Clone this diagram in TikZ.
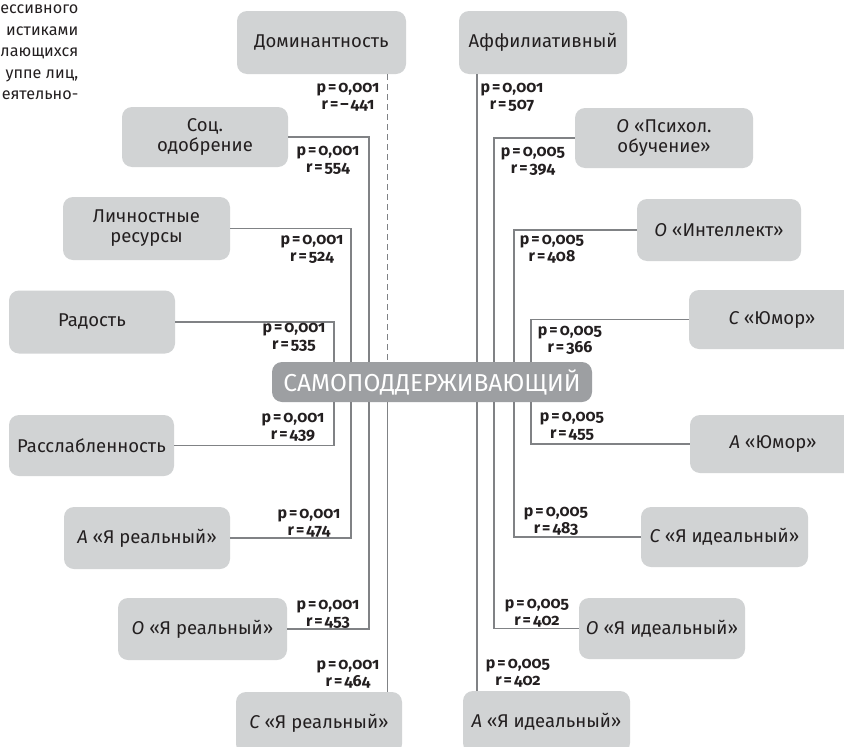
\documentclass[tikz,border=0pt]{standalone}
\usepackage{fontspec}
\setmainfont{Fira Sans}
\newfontfamily\lblfont[Numbers=OldStyle]{Fira Sans}
\usetikzlibrary{calc}
\definecolor{boxgray}{HTML}{D1D3D4}
\definecolor{coregray}{HTML}{9D9FA2}
\definecolor{linegray}{HTML}{808285}
\definecolor{txt}{HTML}{231F20}
\newcommand\pv[1]{p\kern2pt=\kern2pt#1}
\newcommand\rv[1]{r\kern2pt=\kern2pt#1}
\begin{document}
\begin{tikzpicture}[x=1pt,y=-1pt,
  box/.style={fill=boxgray, rounded corners=10pt, text=txt,
    font=\fontsize{18.5}{20}\selectfont, align=center, inner sep=0pt},
  core/.style={fill=coregray, rounded corners=10pt, text=white,
    font=\fontsize{24.5}{26}\selectfont, inner sep=0pt},
  conn/.style={draw=linegray, line width=1.3pt},
  stat/.style={font=\lblfont\bfseries\fontsize{16}{17}\selectfont, text=txt,
    align=center, inner sep=0pt},
  para/.style={font=\fontsize{16.2}{21.5}\selectfont, text=txt, align=right,
    inner sep=0pt}
]
\useasboundingbox (0,0) rectangle (844,747);
\fill[white] (0,0) rectangle (844,747);

% paragraph fragment
\node[para, anchor=north east] (frag) at (78.5,5)
  {ессивного\\истиками\\лающихся\\уппе лиц,\\еятельно-};

% column coordinates
\coordinate (x334) at (334,0);
\coordinate (x351) at (351,0);
\coordinate (x369) at (369,0);
\coordinate (x387) at (387.5,0);
\coordinate (x477) at (477,0);
\coordinate (x494) at (494,0);
\coordinate (x514) at (514,0);
\coordinate (x531) at (531,0);

% central node
\node[core, minimum width=320pt, minimum height=40pt] (core) at (432,382)
  {САМОПОДДЕРЖИВАЮЩИЙ};

% left boxes
\node[box, minimum width=169pt, minimum height=63pt] (dom) at (321.5,42.5) {Доминантность};
\node[box, minimum width=166pt, minimum height=60pt] (soc) at (205,137) {Соц.\\одобрение};
\node[box, minimum width=167pt, minimum height=63pt] (lich) at (146.5,228.5) {Личностные\\ресурсы};
\node[box, minimum width=166pt, minimum height=63pt] (rad) at (92,322) {Радость};
\node[box, minimum width=165pt, minimum height=61pt] (rass) at (91.5,445.5) {Расслабленность};
\node[box, minimum width=166pt, minimum height=62pt] (aR) at (147,538) {{\itshape А} «Я реальный»};
\node[box, minimum width=169pt, minimum height=62pt] (oR) at (202.5,629) {{\itshape О} «Я реальный»};
\node[box, minimum width=166pt, minimum height=62pt] (cR) at (319,723) {{\itshape С} «Я реальный»};

% right boxes
\node[box, minimum width=168pt, minimum height=63pt] (aff) at (543,42.5) {Аффилиативный};
\node[box, minimum width=178pt, minimum height=60pt] (psy) at (664,138) {{\itshape О} «Психол.\\обучение»};
\node[box, minimum width=164pt, minimum height=62pt] (int) at (719,230) {{\itshape О} «Интеллект»};
\node[box, minimum width=166pt, minimum height=59pt] (cYu) at (772,319.5) {{\itshape С} «Юмор»};
\node[box, minimum width=166pt, minimum height=58pt] (aYu) at (773,444) {{\itshape А} «Юмор»};
\node[box, minimum width=167pt, minimum height=60pt] (cI) at (724.5,537) {{\itshape С} «Я идеальный»};
\node[box, minimum width=166pt, minimum height=61pt] (oI) at (662,628.5) {{\itshape О} «Я идеальный»};
\node[box, minimum width=167pt, minimum height=62pt] (aI) at (546.5,722) {{\itshape А} «Я идеальный»};

% connectors left
\draw[conn, dashed, dash pattern=on 6pt off 4pt] (dom.south -| x387) -- (x387 |- core.north);
\draw[conn] (soc.east) -| (x369 |- core.north);
\draw[conn] (lich.east) -| (x351 |- core.north);
\draw[conn] (rad.east) -| (x334 |- core.north);
\draw[conn] (rass.east) -| (x334 |- core.south);
\draw[conn] (aR.east) -| (x351 |- core.south);
\draw[conn] (oR.east) -| (x369 |- core.south);
\draw[conn] (cR.north -| x387) -- (x387 |- core.south);

% connectors right
\draw[conn] (aff.south -| x477) -- (x477 |- core.north);
\draw[conn] (psy.west) -| (x494 |- core.north);
\draw[conn] (int.west) -| (x514 |- core.north);
\draw[conn] (cYu.west) -| (x531 |- core.north);
\draw[conn] (aYu.west) -| (x531 |- core.south);
\draw[conn] (cI.west) -| (x514 |- core.south);
\draw[conn] (oI.west) -| (x494 |- core.south);
\draw[conn] (aI.north -| x477) -- (x477 |- core.south);

% statistics labels
\node[stat] (sdom) at (348,97) {\pv{0,001}\\\rv{–\kern2pt441}};
\node[stat] (ssoc) at (328,160) {\pv{0,001}\\\rv{554}};
\node[stat] (slich) at (312,249) {\pv{0,001}\\\rv{524}};
\node[stat] (srad) at (294,337) {\pv{0,001}\\\rv{535}};
\node[stat] (srass) at (293,427) {\pv{0,001}\\\rv{439}};
\node[stat] (saR) at (309,523) {\pv{0,001}\\\rv{474}};
\node[stat] (soR) at (328,614) {\pv{0,001}\\\rv{453}};
\node[stat] (scR) at (348,674) {\pv{0,001}\\\rv{464}};

\node[stat] (saff) at (512,97) {\pv{0,001}\\\rv{507}};
\node[stat] (spsy) at (533,161) {\pv{0,005}\\\rv{394}};
\node[stat] (sint) at (552,249) {\pv{0,005}\\\rv{408}};
\node[stat] (scYu) at (570,340) {\pv{0,005}\\\rv{366}};
\node[stat] (saYu) at (572,426) {\pv{0,005}\\\rv{455}};
\node[stat] (scI) at (556,521) {\pv{0,005}\\\rv{483}};
\node[stat] (soI) at (537,613) {\pv{0,005}\\\rv{402}};
\node[stat] (saI) at (518,673) {\pv{0,005}\\\rv{402}};
\end{tikzpicture}
\end{document}
